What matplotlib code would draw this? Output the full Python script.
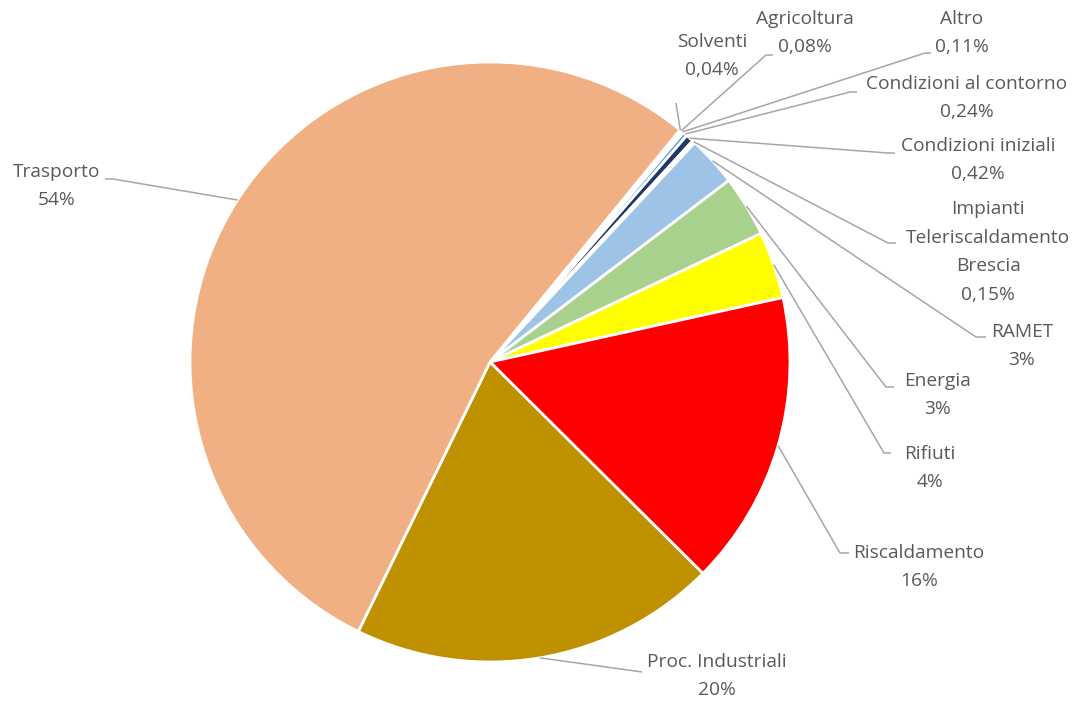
import matplotlib.pyplot as plt
import numpy as np

# dati (ordine orario a partire dalle fette piccole in alto a destra)
categories = ['Solventi', 'Agricoltura', 'Altro', 'Condizioni al contorno',
              'Condizioni iniziali', 'Impianti\nTeleriscaldamento\nBrescia',
              'RAMET', 'Energia', 'Rifiuti', 'Riscaldamento',
              'Proc. Industriali', 'Trasporto']
values = [0.04, 0.08, 0.11, 0.24, 0.42, 0.15, 2.7, 3.3, 3.6, 15.9, 19.8, 53.7]
pct_labels = ['0,04%', '0,08%', '0,11%', '0,24%', '0,42%', '0,15%',
              '3%', '3%', '4%', '16%', '20%', '54%']
colors = ['#7F7F7F', '#70AD47', '#A5A5A5', '#5B9BD5', '#203864', '#DEEBF7',
          '#9DC3E6', '#A9D18E', '#FFFF00', '#FF0000', '#BF9000', '#F0B084']

W, H = 1083, 706

# posizione delle etichette (pixel, centro del blocco) e punti della linea guida
label_pos = [(712, 56), (805, 33), (962, 33), (967, 98), (978, 160), (988, 252),
             (1022, 346), (938, 395), (930, 468), (919, 567), (717, 676), (57, 186)]
leader_end = [None, [(766, 55), (773, 55)], [(925, 53), (931, 53)],
              [(850, 92), (857, 92)], [(888, 153), (895, 153)],
              [(888, 243), (896, 243)], [(976, 337), (986, 337)],
              [(886, 387), (894, 387)], [(884, 453), (891, 453)],
              [(840, 553), (849, 553)], [(635, 671), (642, 672)],
              [(113, 179), (105, 179)]]

fig = plt.figure(figsize=(W / 100, H / 100), dpi=100)
ax = fig.add_axes([0, 0, 1, 1])

cx, cy, r = 490, H - 362, 300
wedges, _ = ax.pie(values, colors=colors, startangle=50.7, counterclock=False,
                   center=(cx, cy), radius=r,
                   wedgeprops=dict(edgecolor='white', linewidth=2))

ax.set_xlim(0, W)
ax.set_ylim(0, H)
ax.set_aspect('equal')
ax.axis('off')

txt_color = '#595959'
line_color = '#A6A6A6'
for w, cat, pct, pos, le in zip(wedges, categories, pct_labels, label_pos, leader_end):
    th = np.deg2rad((w.theta1 + w.theta2) / 2)
    sx, sy = cx + r * np.cos(th), cy + r * np.sin(th)
    ax.text(pos[0], H - pos[1], cat + '\n' + pct, ha='center', va='center',
            multialignment='center', fontsize=13.8, color=txt_color,
            family=['Open Sans', 'DejaVu Sans'], linespacing=1.75)
    if le is None:
        xs, ys = [sx, 676], [sy, H - 103]
    else:
        xs = [sx] + [p[0] for p in le]
        ys = [sy] + [H - p[1] for p in le]
    ax.plot(xs, ys, color=line_color, lw=1.1, solid_capstyle='butt')

fig.savefig('out.png', dpi=100)
